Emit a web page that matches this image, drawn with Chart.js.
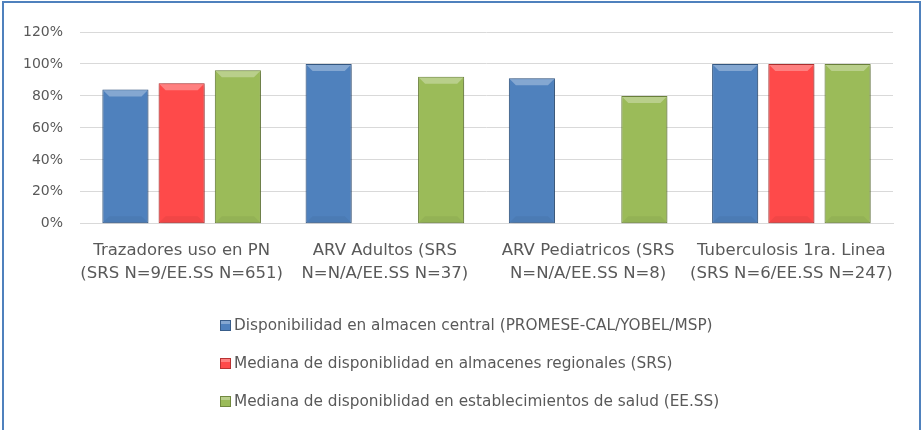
<!DOCTYPE html>
<html>
<head>
<meta charset="utf-8">
<script src="https://cdn.jsdelivr.net/npm/chart.js@4.4.1/dist/chart.umd.min.js"></script>
<style>
  html, body { margin: 0; padding: 0; background: #fff; }
  #wrap { position: relative; width: 924px; height: 430px; }
  #frame {
    position: absolute; left: 2px; top: 1px; width: 919px; height: 440px;
    border: 2px solid #4f81bd; box-sizing: border-box; pointer-events: none;
  }
  #legend {
    position: absolute; left: 220px; top: 306px;
    font-family: 'DejaVu Sans', sans-serif; font-size: 15.3px; color: #595959;
  }
  #legend div { height: 38px; line-height: 38px; white-space: nowrap; }
  #legend span.box {
    display: inline-block; width: 9px; height: 9px; margin-right: 3px;
    vertical-align: -1px; border: 1px solid;
  }
</style>
</head>
<body>
<div id="wrap">
  <canvas id="chart" width="924" height="430"></canvas>
  <div id="legend"></div>
  <div id="frame"></div>
</div>
<script>
const categories = [
    ['Trazadores uso en PN', '(SRS N=9/EE.SS N=651)'],
    ['ARV Adultos (SRS', 'N=N/A/EE.SS N=37)'],
    ['ARV Pediatricos (SRS', 'N=N/A/EE.SS N=8)'],
    ['Tuberculosis 1ra. Linea', '(SRS N=6/EE.SS N=247)']
];
const seriesNames = [
    'Disponibilidad en almacen central (PROMESE-CAL/YOBEL/MSP)',
    'Mediana de disponiblidad en almacenes regionales (SRS)',
    'Mediana de disponiblidad en establecimientos de salud (EE.SS)'
];
const centralValues = [84, 100, 91, 100];
const regionalValues = [88, null, null, 100];
const establecimientoValues = [96, 92, 80, 100];
const yTicks = [0, 20, 40, 60, 80, 100, 120];

const colors = ['#4f81bd', '#fe4a4a', '#9bbb59'];
const edges = ['#385d8a', '#b83232', '#71893f'];

function shade(hex, amt) {
    const n = parseInt(hex.slice(1), 16);
    let r = (n >> 16) & 255, g = (n >> 8) & 255, b = n & 255;
    if (amt > 0) {
        r += (255 - r) * amt; g += (255 - g) * amt; b += (255 - b) * amt;
    } else {
        r *= 1 + amt; g *= 1 + amt; b *= 1 + amt;
    }
    return 'rgb(' + Math.round(r) + ',' + Math.round(g) + ',' + Math.round(b) + ')';
}

// soft shadow behind bars + bevel highlight on top
const bevelPlugin = {
    id: 'bevel',
    beforeDatasetsDraw(chart) {
        chart.ctx.save();
        chart.ctx.shadowColor = 'rgba(0,0,0,0.35)';
        chart.ctx.shadowBlur = 5;
        chart.ctx.shadowOffsetX = 1;
        chart.ctx.shadowOffsetY = 1;
    },
    afterDatasetsDraw(chart) {
        const ctx = chart.ctx;
        ctx.restore();
        chart.data.datasets.forEach((ds, di) => {
            const meta = chart.getDatasetMeta(di);
            meta.data.forEach((bar, i) => {
                if (ds.data[i] == null) return;
                const l = bar.x - bar.width / 2, r = bar.x + bar.width / 2;
                const t = bar.y, b = bar.base, k = 7;
                ctx.save();
                ctx.fillStyle = shade(colors[di], 0.3);
                ctx.beginPath();
                ctx.moveTo(l + 1, t + 1); ctx.lineTo(r - 1, t + 1);
                ctx.lineTo(r - k, t + k); ctx.lineTo(l + k, t + k);
                ctx.closePath(); ctx.fill();
                ctx.fillStyle = shade(colors[di], -0.05);
                ctx.beginPath();
                ctx.moveTo(l + 1, b - 1); ctx.lineTo(r - 1, b - 1);
                ctx.lineTo(r - k, b - k); ctx.lineTo(l + k, b - k);
                ctx.closePath(); ctx.fill();
                ctx.restore();
            });
        });
    }
};

const font = "'DejaVu Sans', sans-serif";

const chart = new Chart(document.getElementById('chart'), {
    type: 'bar',
    data: {
        labels: categories,
        datasets: [
            { label: seriesNames[0], data: centralValues },
            { label: seriesNames[1], data: regionalValues },
            { label: seriesNames[2], data: establecimientoValues }
        ].map((d, i) => Object.assign(d, {
            backgroundColor: colors[i],
            borderColor: edges[i],
            borderWidth: 1,
            borderSkipped: false,
            categoryPercentage: 0.83,
            barPercentage: 0.82
        }))
    },
    options: {
        responsive: false,
        animation: false,
        layout: { padding: { left: 6, right: 31, top: 32, bottom: 138 } },
        scales: {
            y: {
                min: 0, max: 120,
                afterBuildTicks(axis) { axis.ticks = yTicks.map(v => ({ value: v })); },
                ticks: {
                    color: '#595959',
                    font: { family: font, size: 14 },
                    padding: 17,
                    callback: v => v + '%'
                },
                grid: { color: '#d9d9d9', lineWidth: 1, drawTicks: false },
                border: { display: false }
            },
            x: {
                ticks: {
                    color: '#595959',
                    font: { family: font, size: 16.5, lineHeight: 1.4 },
                    padding: 7,
                    maxRotation: 0,
                    autoSkip: false
                },
                grid: { display: false },
                border: { color: '#d9d9d9', width: 1 }
            }
        },
        plugins: {
            legend: { display: false },
            tooltip: { enabled: false }
        }
    },
    plugins: [bevelPlugin]
});

// legend built from the chart's datasets
const legendEl = document.getElementById('legend');
chart.data.datasets.forEach((ds, i) => {
    const row = document.createElement('div');
    const box = document.createElement('span');
    box.className = 'box';
    box.style.background = 'linear-gradient(' + shade(colors[i], 0.3) + ' 0 30%, ' + colors[i] + ' 30%)';
    box.style.borderColor = edges[i];
    row.appendChild(box);
    row.appendChild(document.createTextNode(ds.label));
    legendEl.appendChild(row);
});
</script>
</body>
</html>
